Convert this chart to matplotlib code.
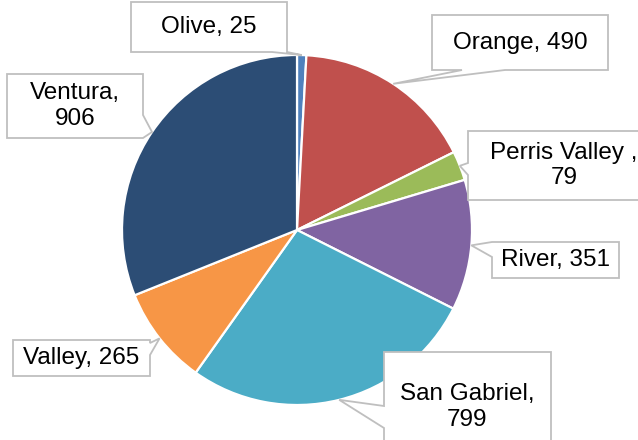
import matplotlib
matplotlib.use("Agg")
import matplotlib.pyplot as plt
import numpy as np
from matplotlib.patches import Polygon

plt.rcParams['font.family'] = ['Liberation Sans', 'DejaVu Sans']

# data
regions = ["Olive", "Orange", "Perris Valley ", "River", "San Gabriel", "Valley", "Ventura"]
counts = [25, 490, 79, 351, 799, 265, 906]
colors = ["#4F81BD", "#C0504D", "#9BBB59", "#8064A2", "#4BACC6", "#F79646", "#2C4D75"]
label_text = ["Olive, 25", "Orange, 490", "Perris Valley ,\n79", "River, 351",
              "San Gabriel,\n799", "Valley, 265", "Ventura,\n906"]

# callout layout in pixels (y measured from top): box x0, x1, y0, y1, pointer side, base a, b
callouts = [
    (131, 287, 2, 52, "bottom", 272, 287),
    (432, 608, 15, 70, "bottom", 462, 505),
    (468, 660, 131, 200, "left", 163, 175),
    (492, 619, 242, 278, "left", 242, 257),
    (384, 551, 352, 462, "left", 406, 428),
    (13, 150, 340, 376, "right", 343, 355),
    (7, 143, 74, 138, "right", 115, 138),
]

W, H = 638, 440
fig = plt.figure(figsize=(W / 100, H / 100), dpi=100)
ax = fig.add_axes([0, 0, 1, 1])

cx, cy, R = 297, 230, 175
wedges, _ = ax.pie(counts, colors=colors, startangle=90, counterclock=False,
                   center=(cx, H - cy), radius=R,
                   wedgeprops=dict(edgecolor="white", linewidth=1.6))
ax.set_xlim(0, W)
ax.set_ylim(0, H)
ax.set_aspect("equal")
ax.axis("off")


def callout_path(x0, x1, y0, y1, side, a, b, tip):
    tl, tr, br, bl = (x0, y0), (x1, y0), (x1, y1), (x0, y1)
    if side == "top":
        pts = [tl, (a, y0), tip, (b, y0), tr, br, bl]
    elif side == "right":
        pts = [tl, tr, (x1, a), tip, (x1, b), br, bl]
    elif side == "bottom":
        pts = [tl, tr, br, (b, y1), tip, (a, y1), bl]
    else:
        pts = [tl, tr, br, bl, (x0, b), tip, (x0, a)]
    return [(x, H - y) for x, y in pts]


for w, txt, (x0, x1, y0, y1, side, a, b) in zip(wedges, label_text, callouts):
    mid = np.deg2rad((w.theta1 + w.theta2) / 2)
    tx = w.center[0] + w.r * np.cos(mid)
    ty = H - (w.center[1] + w.r * np.sin(mid))
    poly = Polygon(callout_path(x0, x1, y0, y1, side, a, b, (tx, ty)), closed=True,
                   facecolor="white", edgecolor="#BFBFBF", linewidth=1.3, zorder=5)
    ax.add_patch(poly)
    ax.text((x0 + x1) / 2, H - (y0 + y1) / 2, txt, ha="center", va="center",
            fontsize=17.5, color="black", linespacing=1.2, zorder=6)

fig.savefig("out.png", dpi=100)
